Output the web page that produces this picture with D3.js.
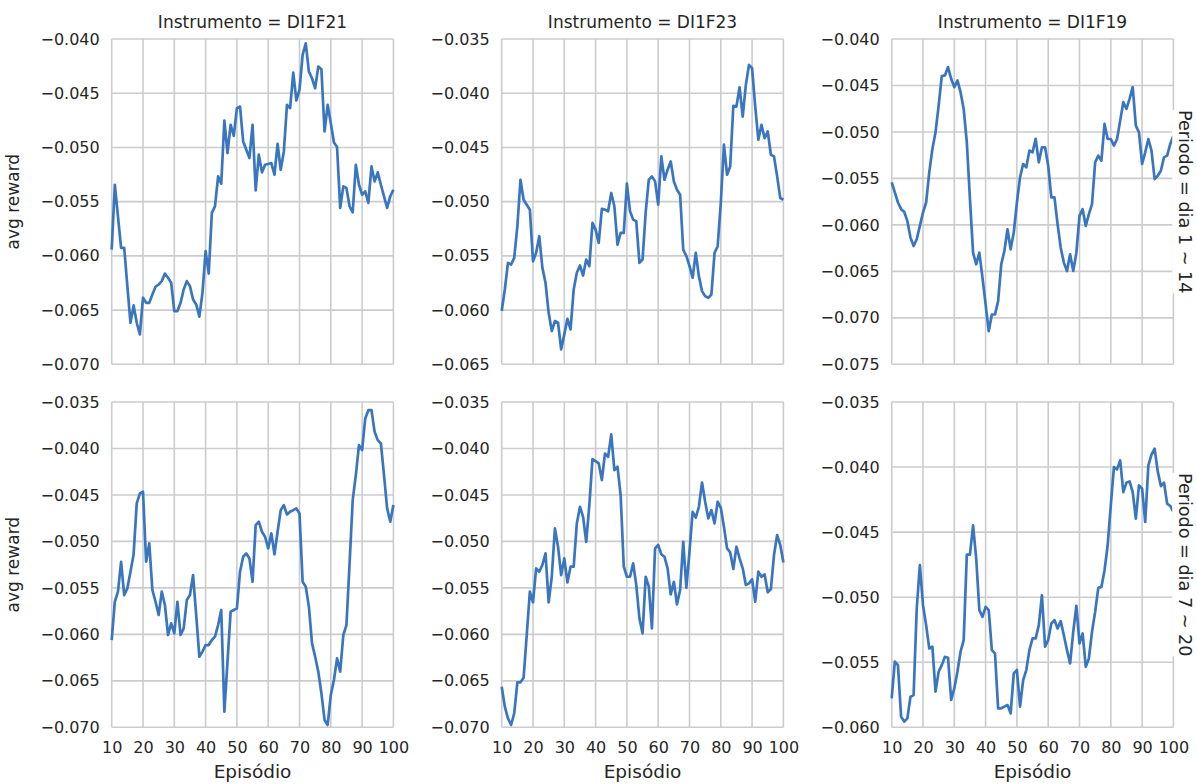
<!DOCTYPE html>
<html>
<head>
<meta charset="utf-8">
<script src="https://cdn.jsdelivr.net/npm/d3@7"></script>
<style>
  html, body { margin: 0; padding: 0; background: #ffffff; }
  svg { display: block; }
  text { font-family: "DejaVu Sans", sans-serif; fill: #262626; }
</style>
</head>
<body>
<svg id="chart" width="1197" height="784"></svg>
<script>
// Episodes on the x axis
const episodes = d3.range(10, 101);
const xTicks = [10, 20, 30, 40, 50, 60, 70, 80, 90, 100];

// Facet labels
const instruments = ["DI1F21", "DI1F23", "DI1F19"];
const periods = ["dia 1 ~ 14", "dia 7 ~ 20"];

// Average reward per episode, one array per (period, instrument)
const rewardF21Dia1 = [
  -0.05942, -0.05344, -0.05635, -0.05926, -0.05926, -0.06279, -0.06617, -0.06457, -0.06617, -0.06724,
  -0.06386, -0.06433, -0.06433, -0.06356, -0.06285, -0.06264, -0.06233, -0.06163, -0.06202, -0.06248,
  -0.06509, -0.06509, -0.06433, -0.06310, -0.06233, -0.06279, -0.06402, -0.06448, -0.06561, -0.06341,
  -0.05957, -0.06163, -0.05604, -0.05543, -0.05267, -0.05334, -0.04752, -0.05052, -0.04791, -0.04893,
  -0.04638, -0.04623, -0.04945, -0.05021, -0.05098, -0.04791, -0.05396, -0.05067, -0.05230, -0.05160,
  -0.05153, -0.05144, -0.05252, -0.04966, -0.05206, -0.05037, -0.04607, -0.04638, -0.04310, -0.04567,
  -0.04469, -0.04147, -0.04040, -0.04301, -0.04362, -0.04454, -0.04255, -0.04279, -0.04853, -0.04607,
  -0.04776, -0.04954, -0.04997, -0.05558, -0.05359, -0.05374, -0.05543, -0.05598, -0.05160, -0.05344,
  -0.05436, -0.05405, -0.05512, -0.05175, -0.05313, -0.05230, -0.05344, -0.05451, -0.05558, -0.05451,
  -0.05390
];
const rewardF23Dia1 = [
  -0.06009, -0.05810, -0.05564, -0.05580, -0.05518, -0.05227, -0.04798, -0.04982, -0.05028, -0.05074,
  -0.05549, -0.05472, -0.05319, -0.05610, -0.05748, -0.06025, -0.06193, -0.06101, -0.06117, -0.06362,
  -0.06224, -0.06080, -0.06178, -0.05810, -0.05656, -0.05589, -0.05681, -0.05534, -0.05595, -0.05196,
  -0.05258, -0.05380, -0.05067, -0.05074, -0.05089, -0.04920, -0.05043, -0.05396, -0.05288, -0.05288,
  -0.04834, -0.05089, -0.05166, -0.05181, -0.05564, -0.05534, -0.05100, -0.04798, -0.04767, -0.04813,
  -0.05028, -0.04583, -0.04798, -0.04706, -0.04629, -0.04813, -0.04890, -0.04936, -0.05442, -0.05503,
  -0.05595, -0.05702, -0.05472, -0.05687, -0.05825, -0.05871, -0.05887, -0.05856, -0.05472, -0.05411,
  -0.05012, -0.04475, -0.04752, -0.04675, -0.04117, -0.04123, -0.03945, -0.04215, -0.03923, -0.03739,
  -0.03770, -0.04123, -0.04429, -0.04291, -0.04414, -0.04353, -0.04567, -0.04583, -0.04767, -0.04966,
  -0.04982
];
const rewardF19Dia1 = [
  -0.05543, -0.05651, -0.05759, -0.05831, -0.05860, -0.05957, -0.06137, -0.06227, -0.06155, -0.06011,
  -0.05867, -0.05759, -0.05435, -0.05183, -0.05004, -0.04716, -0.04399, -0.04392, -0.04302, -0.04428,
  -0.04518, -0.04446, -0.04572, -0.04752, -0.05111, -0.05723, -0.06299, -0.06424, -0.06299, -0.06568,
  -0.06856, -0.07144, -0.06964, -0.06964, -0.06820, -0.06424, -0.06281, -0.06047, -0.06263, -0.06083,
  -0.05759, -0.05489, -0.05345, -0.05381, -0.05201, -0.05219, -0.05075, -0.05327, -0.05165, -0.05165,
  -0.05363, -0.05705, -0.05705, -0.05993, -0.06245, -0.06406, -0.06496, -0.06316, -0.06496, -0.06299,
  -0.05903, -0.05831, -0.06011, -0.05885, -0.05777, -0.05327, -0.05255, -0.05309, -0.04914, -0.05076,
  -0.05076, -0.05147, -0.05076, -0.04878, -0.04680, -0.04752, -0.04644, -0.04518, -0.04932, -0.05004,
  -0.05345, -0.05219, -0.05076, -0.05201, -0.05507, -0.05471, -0.05417, -0.05273, -0.05255, -0.05129,
  -0.05040
];
const rewardF21Dia7 = [
  -0.06061, -0.05649, -0.05541, -0.05219, -0.05577, -0.05505, -0.05326, -0.05140, -0.04591, -0.04484,
  -0.04466, -0.05219, -0.05021, -0.05523, -0.05649, -0.05792, -0.05541, -0.05684, -0.06007, -0.05882,
  -0.05989, -0.05649, -0.06007, -0.05935, -0.05631, -0.05577, -0.05362, -0.05792, -0.06240, -0.06186,
  -0.06115, -0.06115, -0.06061, -0.06025, -0.05900, -0.05738, -0.06831, -0.06294, -0.05756, -0.05738,
  -0.05720, -0.05326, -0.05165, -0.05129, -0.05183, -0.05434, -0.04824, -0.04788, -0.04896, -0.04950,
  -0.05075, -0.04914, -0.05140, -0.04896, -0.04663, -0.04609, -0.04710, -0.04681, -0.04663, -0.04645,
  -0.04699, -0.05434, -0.05487, -0.05702, -0.06097, -0.06240, -0.06401, -0.06634, -0.06921, -0.06975,
  -0.06652, -0.06491, -0.06258, -0.06401, -0.06007, -0.05900, -0.05236, -0.04556, -0.04287, -0.03964,
  -0.04018, -0.03677, -0.03588, -0.03588, -0.03821, -0.03910, -0.03946, -0.04287, -0.04645, -0.04788,
  -0.04609
];
const rewardF23Dia7 = [
  -0.06563, -0.06778, -0.06903, -0.06975, -0.06849, -0.06516, -0.06516, -0.06466, -0.06007, -0.05541,
  -0.05656, -0.05290, -0.05326, -0.05254, -0.05129, -0.05656, -0.05380, -0.04860, -0.05057, -0.05362,
  -0.05183, -0.05441, -0.05272, -0.05272, -0.04806, -0.04627, -0.04735, -0.05004, -0.04609, -0.04115,
  -0.04136, -0.04161, -0.04340, -0.04054, -0.04090, -0.03849, -0.04233, -0.04197, -0.04502, -0.05272,
  -0.05380, -0.05380, -0.05236, -0.05470, -0.05828, -0.05989, -0.05380, -0.05487, -0.05935, -0.05075,
  -0.05039, -0.05140, -0.05165, -0.05290, -0.05570, -0.05434, -0.05677, -0.05523, -0.05004, -0.05498,
  -0.05111, -0.04681, -0.04745, -0.04627, -0.04366, -0.04573, -0.04753, -0.04663, -0.04806, -0.04573,
  -0.04638, -0.04842, -0.05075, -0.05118, -0.05297, -0.05057, -0.05183, -0.05290, -0.05469, -0.05451,
  -0.05409, -0.05649, -0.05326, -0.05380, -0.05355, -0.05548, -0.05512, -0.05147, -0.04932, -0.05039,
  -0.05226
];
const rewardF19Dia7 = [
  -0.05777, -0.05496, -0.05522, -0.05918, -0.05956, -0.05931, -0.05765, -0.05752, -0.05087, -0.04754,
  -0.05061, -0.05215, -0.05394, -0.05381, -0.05726, -0.05573, -0.05522, -0.05458, -0.05465, -0.05790,
  -0.05701, -0.05573, -0.05419, -0.05330, -0.04673, -0.04673, -0.04448, -0.04703, -0.05100, -0.05151,
  -0.05074, -0.05100, -0.05407, -0.05432, -0.05854, -0.05854, -0.05841, -0.05829, -0.05893, -0.05586,
  -0.05560, -0.05841, -0.05637, -0.05560, -0.05407, -0.05317, -0.05317, -0.05215, -0.04985, -0.05381,
  -0.05330, -0.05202, -0.05176, -0.05240, -0.05184, -0.05292, -0.05407, -0.05509, -0.05266, -0.05066,
  -0.05355, -0.05279, -0.05535, -0.05471, -0.05266, -0.05113, -0.04928, -0.04921, -0.04793, -0.04601,
  -0.04294, -0.04000, -0.04018, -0.03949, -0.04192, -0.04120, -0.04110, -0.04192, -0.04396, -0.04141,
  -0.04166, -0.04422, -0.03987, -0.03905, -0.03859, -0.04033, -0.04146, -0.04120, -0.04281, -0.04299,
  -0.04345
];

// Y tick values per facet (each facet has its own y range)
const yTicksF21Dia1 = [-0.070, -0.065, -0.060, -0.055, -0.050, -0.045, -0.040];
const yTicksF23Dia1 = [-0.065, -0.060, -0.055, -0.050, -0.045, -0.040, -0.035];
const yTicksF19Dia1 = [-0.075, -0.070, -0.065, -0.060, -0.055, -0.050, -0.045, -0.040];
const yTicksF21Dia7 = [-0.070, -0.065, -0.060, -0.055, -0.050, -0.045, -0.040, -0.035];
const yTicksF23Dia7 = [-0.070, -0.065, -0.060, -0.055, -0.050, -0.045, -0.040, -0.035];
const yTicksF19Dia7 = [-0.060, -0.055, -0.050, -0.045, -0.040, -0.035];

const facets = [
  { row: 0, col: 0, values: rewardF21Dia1, yTicks: yTicksF21Dia1 },
  { row: 0, col: 1, values: rewardF23Dia1, yTicks: yTicksF23Dia1 },
  { row: 0, col: 2, values: rewardF19Dia1, yTicks: yTicksF19Dia1 },
  { row: 1, col: 0, values: rewardF21Dia7, yTicks: yTicksF21Dia7 },
  { row: 1, col: 1, values: rewardF23Dia7, yTicks: yTicksF23Dia7 },
  { row: 1, col: 2, values: rewardF19Dia7, yTicks: yTicksF19Dia7 }
];

// Facet grid geometry
const panelW = 281.7, panelH = 325.3;
const colLeft = [111.7, 501.7, 891.7];
const rowTop = [39, 402];
const gridColor = "#cccccc";
const lineColor = "#3a76bf";
const tickFont = 16;
const labelFont = 17;
const xLabelFont = 18.5;
const rowLabelFont = 17.6;

const svg = d3.select("#chart");
svg.append("rect").attr("width", 1197).attr("height", 784).attr("fill", "#ffffff");

const fmt = d3.format(".3f");

facets.forEach(f => {
  const g = svg.append("g")
    .attr("transform", `translate(${colLeft[f.col]},${rowTop[f.row]})`);

  const x = d3.scaleLinear().domain([10, 100]).range([0, panelW]);
  const y = d3.scaleLinear()
    .domain([d3.min(f.yTicks), d3.max(f.yTicks)])
    .range([panelH, 0]);

  // grid
  g.append("g").selectAll("line").data(xTicks).join("line")
    .attr("x1", d => x(d)).attr("x2", d => x(d))
    .attr("y1", 0).attr("y2", panelH)
    .attr("stroke", gridColor).attr("stroke-width", 1.6);
  g.append("g").selectAll("line").data(f.yTicks).join("line")
    .attr("x1", 0).attr("x2", panelW)
    .attr("y1", d => y(d)).attr("y2", d => y(d))
    .attr("stroke", gridColor).attr("stroke-width", 1.6);

  // y axis labels
  const yAxis = g.append("g")
    .call(d3.axisLeft(y).tickValues(f.yTicks).tickSize(0).tickPadding(12).tickFormat(fmt));
  yAxis.select(".domain").remove();
  yAxis.selectAll("text").attr("font-size", tickFont)
    .attr("font-family", "DejaVu Sans, sans-serif").attr("fill", "#262626");

  // x axis labels only on the bottom row
  if (f.row === 1) {
    const xAxis = g.append("g")
      .attr("transform", `translate(0,${panelH})`)
      .call(d3.axisBottom(x).tickValues(xTicks).tickSize(0).tickPadding(14).tickFormat(d3.format("d")));
    xAxis.select(".domain").remove();
    xAxis.selectAll("text").attr("font-size", tickFont)
      .attr("font-family", "DejaVu Sans, sans-serif").attr("fill", "#262626");

    g.append("text")
      .attr("x", panelW / 2).attr("y", panelH + 51)
      .attr("text-anchor", "middle")
      .attr("font-size", xLabelFont)
      .text("Episódio");
  }

  // data line
  const line = d3.line()
    .x((d, i) => x(episodes[i]))
    .y(d => y(d));
  g.append("path")
    .datum(f.values)
    .attr("d", line)
    .attr("fill", "none")
    .attr("stroke", lineColor)
    .attr("stroke-width", 2.7)
    .attr("stroke-linejoin", "round")
    .attr("stroke-linecap", "butt");

  // column titles on the top row
  if (f.row === 0) {
    g.append("text")
      .attr("x", panelW / 2).attr("y", -11)
      .attr("text-anchor", "middle")
      .attr("font-size", labelFont)
      .text(`Instrumento = ${instruments[f.col]}`);
  }

  // y label on the first column
  if (f.col === 0) {
    g.append("text")
      .attr("transform", `translate(${-93},${panelH / 2}) rotate(-90)`)
      .attr("text-anchor", "middle")
      .attr("font-size", labelFont)
      .text("avg reward");
  }

  // row label on the right of the last column
  if (f.col === 2) {
    const lg = g.append("g")
      .attr("transform", `translate(${panelW + 12},${panelH / 2}) rotate(90)`);
    const t = lg.append("text")
      .attr("text-anchor", "middle")
      .attr("dy", "0.35em")
      .attr("font-size", rowLabelFont)
      .text(`Periodo = ${periods[f.row]}`);
    const bb = t.node().getBBox();
    lg.insert("rect", "text")
      .attr("x", bb.x).attr("y", bb.y - 3)
      .attr("width", bb.width).attr("height", bb.height + 6)
      .attr("fill", "#ffffff");
  }
});
</script>
</body>
</html>
